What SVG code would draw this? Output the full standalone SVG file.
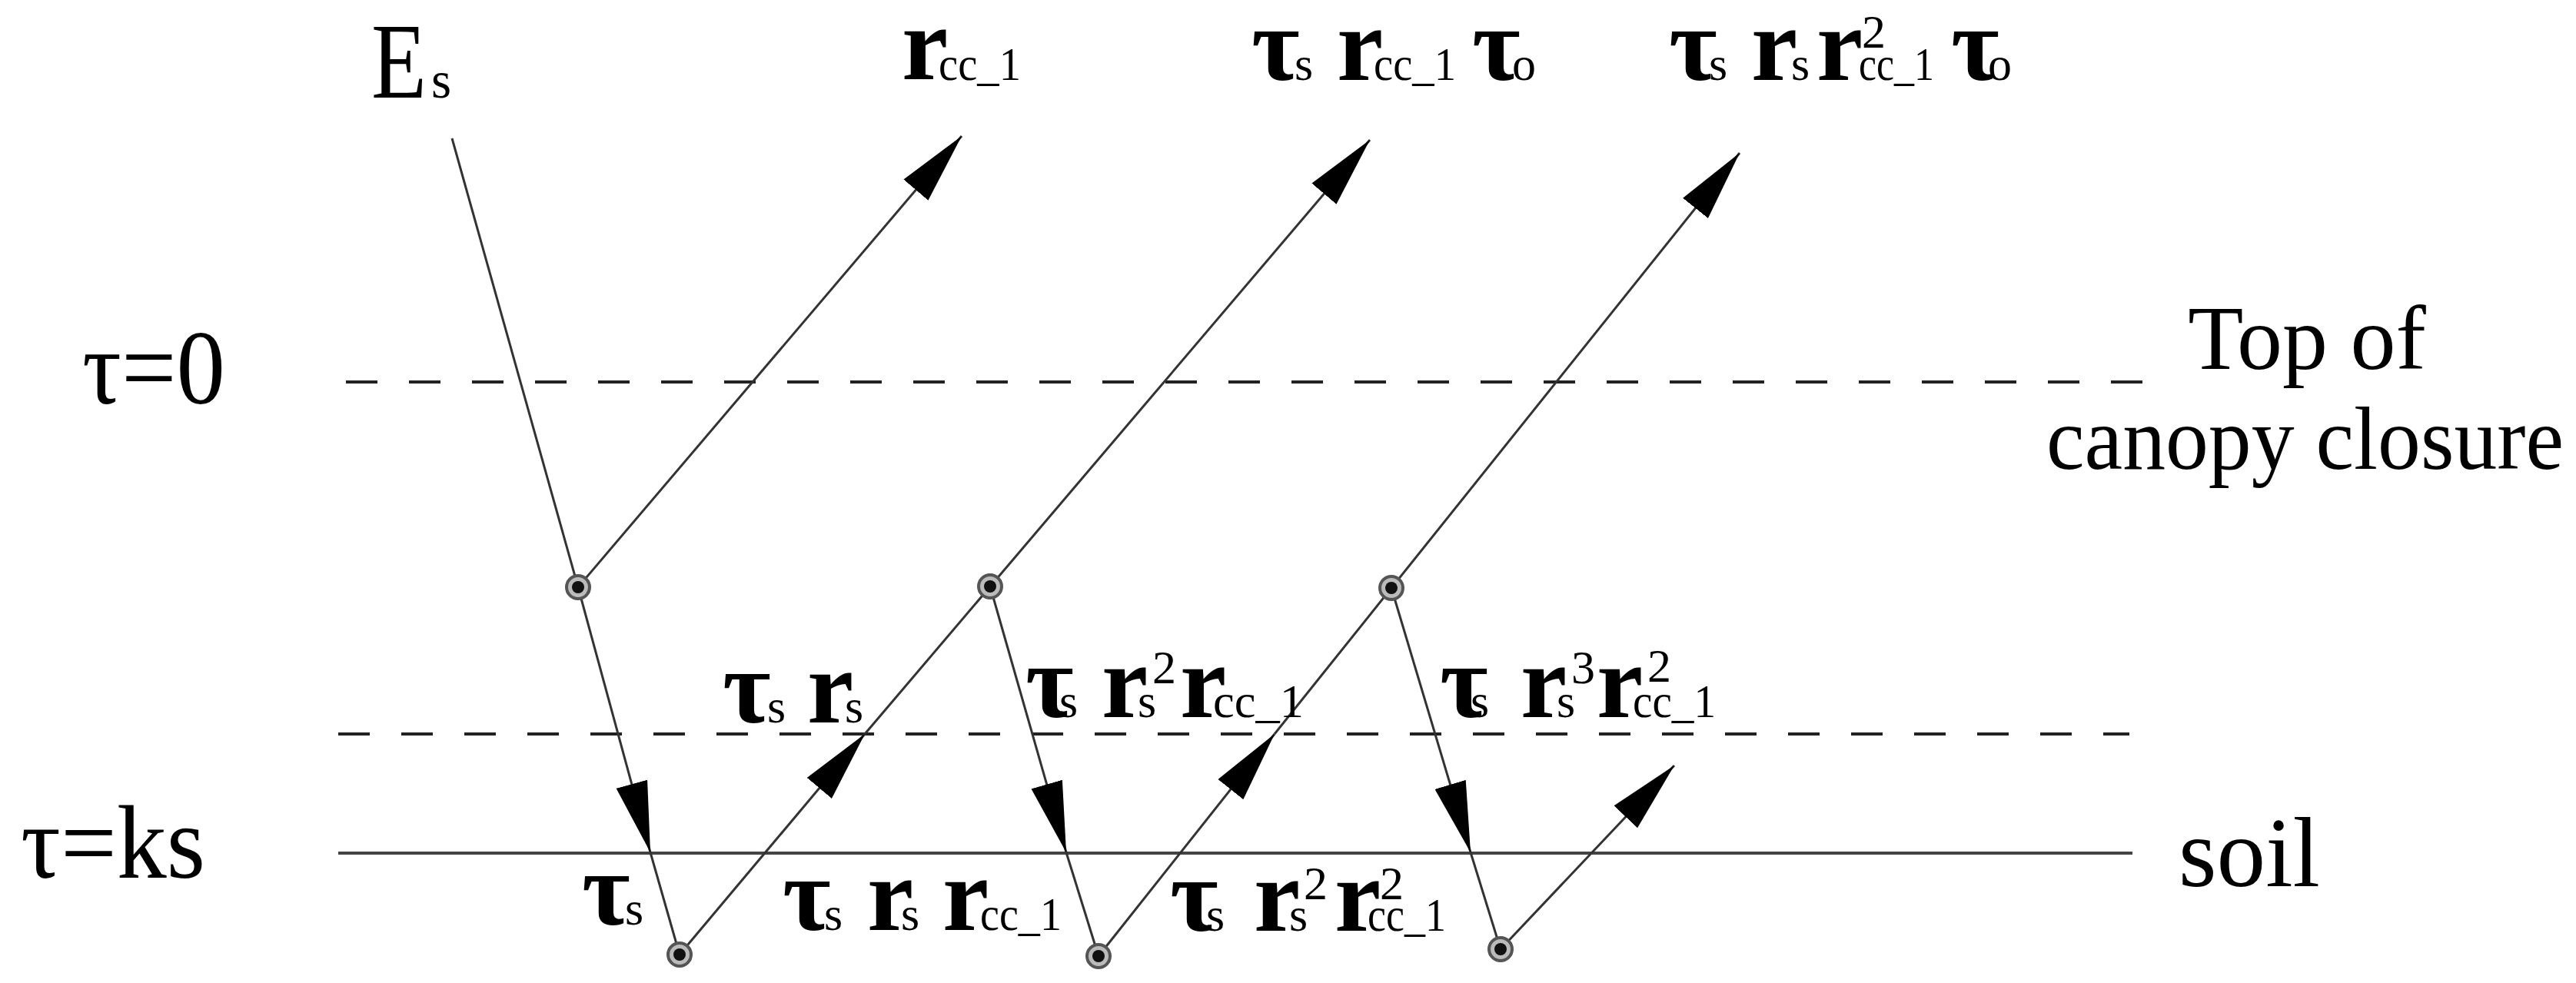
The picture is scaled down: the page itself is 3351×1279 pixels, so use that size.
<svg xmlns="http://www.w3.org/2000/svg" width="3351" height="1279" viewBox="0 0 3351 1279">
<defs>
<style>
.ln{stroke:#333;stroke-width:3;fill:none}
.dash{stroke:#222;stroke-width:4;stroke-dasharray:41 41;fill:none}
.soil{stroke:#444;stroke-width:4;fill:none}
.m{font-family:"Liberation Serif",serif;font-weight:bold;font-size:136px;fill:#000}
.sb{font-family:"Liberation Serif",serif;font-size:62px;fill:#000}
.rg{font-family:"Liberation Serif",serif;fill:#000}
.ring{fill:#bbb;stroke:#555;stroke-width:4}
.dot{fill:#111}
</style>
<marker id="ah" markerUnits="userSpaceOnUse" markerWidth="92" markerHeight="42" viewBox="0 0 92 42" refX="92" refY="21" orient="auto">
<path d="M0,0 L92,21 L0,42 Z" fill="#000"/>
</marker>
</defs>
<rect width="3351" height="1279" fill="#fff"/>

<g id="levels">
<line class="dash" x1="450" y1="497" x2="2789" y2="497"/>
<line class="dash" x1="440" y1="955" x2="2770" y2="955"/>
<line class="soil" x1="440" y1="1110" x2="2774" y2="1110"/>
</g>

<g id="connectors">
<path class="ln" d="M588,180 L752,764"/>
<path class="ln" d="M752,764 L1251,177" marker-end="url(#ah)"/>
<path class="ln" d="M752,764 L846,1109" marker-end="url(#ah)"/>
<path class="ln" d="M846,1109 L884,1242"/>
<path class="ln" d="M884,1242 L1125,955" marker-end="url(#ah)"/>
<path class="ln" d="M1125,955 L1782,182" marker-end="url(#ah)"/>
<path class="ln" d="M1288,763 L1387,1109" marker-end="url(#ah)"/>
<path class="ln" d="M1387,1109 L1429,1244"/>
<path class="ln" d="M1429,1244 L1658,955" marker-end="url(#ah)"/>
<path class="ln" d="M1658,955 L2263,199" marker-end="url(#ah)"/>
<path class="ln" d="M1810,765 L1913,1109" marker-end="url(#ah)"/>
<path class="ln" d="M1913,1109 L1952,1235"/>
<path class="ln" d="M1952,1235 L2178,996" marker-end="url(#ah)"/>
</g>

<g id="node-n1"><circle class="ring" cx="752" cy="764" r="15"/><circle class="dot" cx="752" cy="764" r="8"/></g>
<g id="node-n2"><circle class="ring" cx="1288" cy="763" r="15"/><circle class="dot" cx="1288" cy="763" r="8"/></g>
<g id="node-n3"><circle class="ring" cx="1810" cy="765" r="15"/><circle class="dot" cx="1810" cy="765" r="8"/></g>
<g id="node-b1"><circle class="ring" cx="884" cy="1242" r="15"/><circle class="dot" cx="884" cy="1242" r="8"/></g>
<g id="node-b2"><circle class="ring" cx="1429" cy="1244" r="15"/><circle class="dot" cx="1429" cy="1244" r="8"/></g>
<g id="node-b3"><circle class="ring" cx="1952" cy="1235" r="15"/><circle class="dot" cx="1952" cy="1235" r="8"/></g>

<g id="label-es">
<text class="rg" x="483" y="127" font-size="139" textLength="72" lengthAdjust="spacingAndGlyphs">E</text>
<text class="rg" x="561" y="127" font-size="67">s</text>
</g>

<g id="label-tau0"><text class="rg" x="107" y="525" font-size="137" textLength="186" lengthAdjust="spacingAndGlyphs">τ=0</text></g>
<g id="label-tauks"><text class="rg" x="27" y="1142" font-size="135" textLength="240" lengthAdjust="spacingAndGlyphs">τ=ks</text></g>
<g id="label-top">
<text class="rg" x="3001" y="480" font-size="118" text-anchor="middle">Top of</text>
<text class="rg" x="2662" y="610" font-size="116" textLength="673" lengthAdjust="spacingAndGlyphs">canopy closure</text>
</g>
<g id="label-soil"><text class="rg" x="2834" y="1153" font-size="130" textLength="184" lengthAdjust="spacingAndGlyphs">soil</text></g>

<g id="out-1">
<text class="m" x="1173" y="103">r</text>
<text class="sb" x="1221" y="104" textLength="107" lengthAdjust="spacingAndGlyphs">cc_1</text>
</g>
<g id="out-2">
<text class="m" x="1628" y="104">τ</text>
<text class="sb" x="1684" y="104">s</text>
<text class="m" x="1739" y="104">r</text>
<text class="sb" x="1787" y="104" textLength="107" lengthAdjust="spacingAndGlyphs">cc_1</text>
<text class="m" x="1915" y="104">τ</text>
<text class="sb" x="1967" y="104">o</text>
</g>
<g id="out-3">
<text class="m" x="2171" y="104">τ</text>
<text class="sb" x="2223" y="104">s</text>
<text class="m" x="2278" y="104">r</text>
<text class="sb" x="2330" y="104">s</text>
<text class="m" x="2363" y="104">r</text>
<text class="sb" x="2422" y="62">2</text>
<text class="sb" x="2418" y="104" textLength="98" lengthAdjust="spacingAndGlyphs">cc_1</text>
<text class="m" x="2538" y="104">τ</text>
<text class="sb" x="2586" y="104">o</text>
</g>

<g id="mid-1">
<text class="m" x="940" y="940">τ</text>
<text class="sb" x="998" y="940">s</text>
<text class="m" x="1050" y="940">r</text>
<text class="sb" x="1099" y="940">s</text>
</g>
<g id="mid-2">
<text class="m" x="1334" y="933">τ</text>
<text class="sb" x="1378" y="933">s</text>
<text class="m" x="1433" y="933">r</text>
<text class="sb" x="1480" y="933">s</text>
<text class="sb" x="1499" y="889">2</text>
<text class="m" x="1535" y="933">r</text>
<text class="sb" x="1578" y="933" textLength="118" lengthAdjust="spacingAndGlyphs">cc_1</text>
</g>
<g id="mid-3">
<text class="m" x="1873" y="933">τ</text>
<text class="sb" x="1913" y="933">s</text>
<text class="m" x="1978" y="933">r</text>
<text class="sb" x="2025" y="933">s</text>
<text class="sb" x="2044" y="889">3</text>
<text class="m" x="2077" y="933">r</text>
<text class="sb" x="2143" y="887">2</text>
<text class="sb" x="2124" y="933" textLength="108" lengthAdjust="spacingAndGlyphs">cc_1</text>
</g>

<g id="bot-1">
<text class="m" x="757" y="1203">τ</text>
<text class="sb" x="813" y="1203">s</text>
</g>
<g id="bot-2">
<text class="m" x="1018" y="1210">τ</text>
<text class="sb" x="1072" y="1210">s</text>
<text class="m" x="1128" y="1210">r</text>
<text class="sb" x="1172" y="1210">s</text>
<text class="m" x="1226" y="1210">r</text>
<text class="sb" x="1275" y="1210" textLength="106" lengthAdjust="spacingAndGlyphs">cc_1</text>
</g>
<g id="bot-3">
<text class="m" x="1522" y="1211">τ</text>
<text class="sb" x="1569" y="1211">s</text>
<text class="m" x="1631" y="1211">r</text>
<text class="sb" x="1677" y="1211">s</text>
<text class="sb" x="1696" y="1170">2</text>
<text class="m" x="1736" y="1211">r</text>
<text class="sb" x="1795" y="1170">2</text>
<text class="sb" x="1779" y="1211" textLength="102" lengthAdjust="spacingAndGlyphs">cc_1</text>
</g>
</svg>
